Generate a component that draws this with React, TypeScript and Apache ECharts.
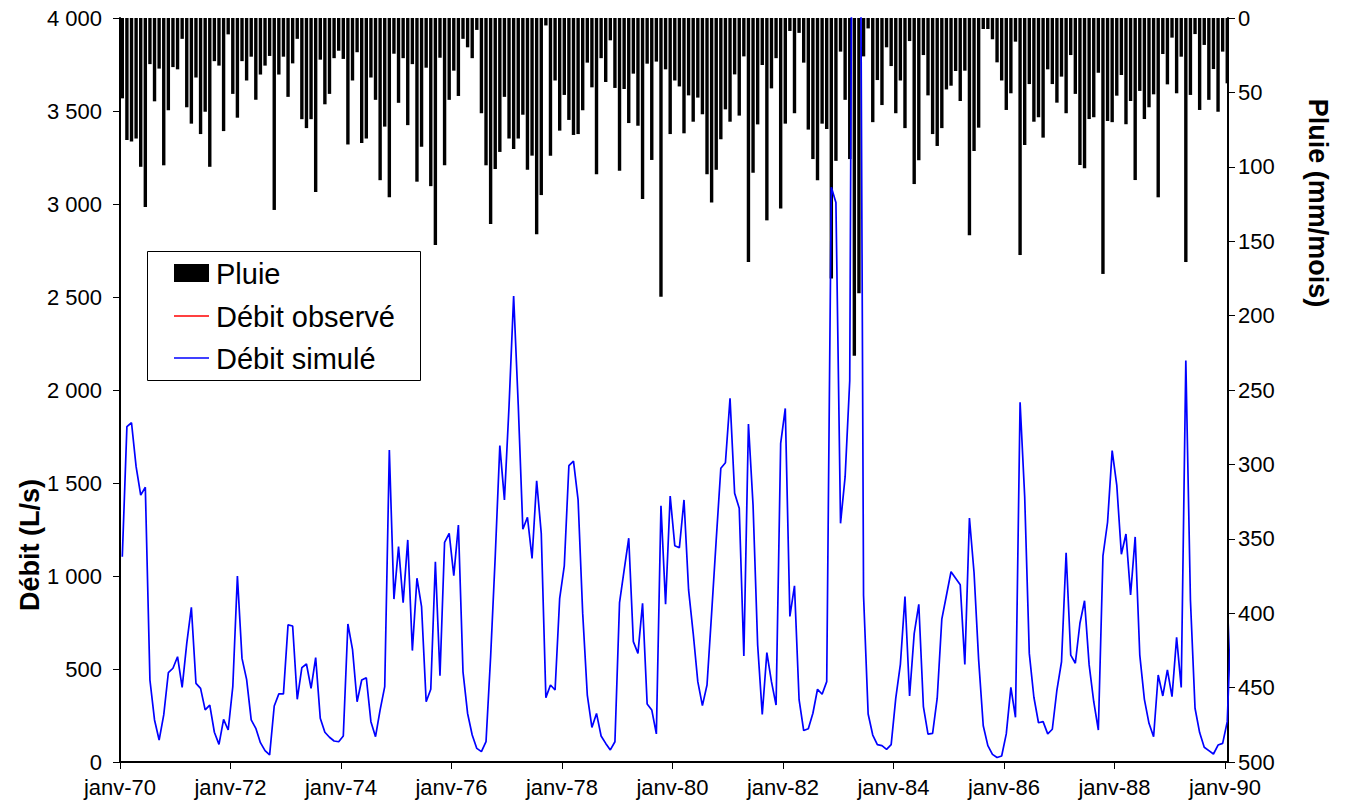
import React, { useEffect, useRef } from 'react';
import * as echarts from 'echarts';

// Monthly rain (mm/month), janv-70 .. janv-90
const rain: number[] = [
  54, 82, 83, 81, 100, 127, 31, 56, 34, 99,
  62, 33, 34.5, 14, 60, 71, 40, 78, 63, 100,
  29, 32, 76, 11, 51, 67, 29, 42, 26, 55,
  38, 32, 25.5, 129, 38, 26, 53, 30.5, 14, 68,
  74, 68, 117, 28, 58, 51, 27, 22, 27.5, 85,
  42, 23, 84, 81, 40, 55, 109, 73, 120.5, 24,
  57, 27, 72, 31, 110, 86.5, 33.4, 113, 152.5, 26.7,
  99, 55, 35.4, 52.4, 14, 19.7, 27, 8, 64, 99,
  138.4, 101.5, 90, 53, 81, 88, 81, 65, 102, 92.5,
  145.4, 119, 5, 92.5, 42, 75.7, 51.7, 68.5, 78.6, 78,
  62, 30, 46.6, 105, 27, 43, 15, 47, 102.6, 47.7,
  70.6, 37.4, 72.4, 121.6, 30.7, 95.4, 29.3, 187.3, 34.5, 78,
  42, 46, 77.5, 52, 69.7, 53.5, 64.7, 105, 124, 102,
  81.5, 61.4, 69.7, 37.9, 65.6, 25.8, 164, 104, 71.5, 31.6,
  136, 47.3, 27, 128, 71, 8.7, 64, 10, 30, 75,
  94.8, 109, 71, 74.6, 175, 96, 22.6, 55, 94.8, 227,
  185, 25.8, 7, 70, 41.7, 58.5, 19.7, 32.3, 64, 42,
  74, 15.5, 111.6, 95.6, 24.9, 52, 78, 86, 74, 48,
  45.5, 35.6, 55.8, 35.4, 146, 89.4, 73.7, 7.4, 7.4, 14.3,
  29.8, 42, 61.8, 50.6, 15.9, 159.3, 85.3, 44.4, 69.7, 66.7,
  80.4, 34.5, 44.4, 56.9, 39.4, 64, 24.9, 51, 98.8, 101,
  67.9, 66.7, 36.8, 172, 69.2, 70, 52.2, 38.3, 71.4, 55.8,
  108.9, 49, 67.9, 60, 51.3, 120.5, 24.2, 44.6, 13.2, 50.6,
  26, 164, 51.7, 10.8, 61.8, 18.1, 55, 34.3, 63, 22.6,
  43.9,
];

// Simulated flow (L/s), janv-70 .. févr-90
const flowSimulated: number[] = [
  1104, 1803, 1824, 1588, 1435, 1477, 441, 226, 118, 253,
  480, 504, 566, 401, 638, 832, 423, 396, 280, 306,
  160, 95, 229, 172, 405, 1000, 557, 444, 226, 181,
  104, 61, 38, 301, 366, 366, 737, 731, 337, 507,
  527, 396, 561, 235, 160, 133, 113, 109, 140, 742,
  606, 324, 441, 453, 217, 136, 280, 405, 1677, 876,
  1158, 857, 1194, 599, 988, 835, 324, 391, 1077, 464,
  1181, 1229, 1002, 1274, 485, 261, 145, 73, 56, 109,
  566, 1104, 1701, 1409, 1914, 2505, 1919, 1251, 1316, 1095,
  1512, 1229, 346, 414, 387, 880, 1054, 1593, 1618, 1409,
  799, 360, 186, 261, 140, 100, 65, 109, 857, 1032,
  1203, 647, 584, 853, 312, 280, 151, 1378, 848, 1430,
  1163, 1152, 1409, 925, 692, 432, 303, 414, 799, 1194,
  1579, 1609, 1955, 1445, 1364, 570, 1817, 1382, 629, 256,
  588, 432, 306, 1713, 1901, 783, 947, 335, 169, 179,
  262, 391, 364, 432, 3090, 3008, 1283, 1534, 2050, 7500,
  6500, 895, 258, 145, 93, 88, 68, 93, 343, 525,
  890, 355, 690, 848, 298, 150, 154, 343, 768, 895,
  1023, 988, 953, 525, 1312, 1019, 549, 195, 88, 41,
  24, 32, 151, 401, 240, 1934, 1427, 584, 348, 211,
  217, 151, 176, 387, 539, 1125, 575, 531, 746, 867,
  522, 324, 172, 1108, 1289, 1674, 1489, 1117, 1226, 898,
  1210, 575, 337, 208, 136, 468, 355, 495, 351, 670,
  401, 2158, 871, 289, 158, 79, 61, 43, 91, 100,
  217, 900,
];

const flowObserved: number[] = [];

const xTickLabels: string[] = [
  'janv-70', 'janv-72', 'janv-74', 'janv-76', 'janv-78', 'janv-80',
  'janv-82', 'janv-84', 'janv-86', 'janv-88', 'janv-90',
];

const legendNames: string[] = ['Pluie', 'Débit observé', 'Débit simulé'];
const legendColors: string[] = ['#000000', '#ff0000', '#0000ff'];

const FONT = '"Liberation Sans", Arial, sans-serif';

function fmtThousands(v: number): string {
  if (v >= 1000) {
    const th = Math.floor(v / 1000);
    const rest = String(v % 1000).padStart(3, '0');
    return th + ' ' + rest;
  }
  return String(v);
}

export default function App() {
  const ref = useRef<HTMLDivElement>(null);
  useEffect(() => {
    if (!ref.current) return;
    const chart = echarts.init(ref.current, undefined, { renderer: 'svg' });
    const xMax = 1108 / 4.604;

    // manual legend (box + icons + labels)
    const lgLeft = 147;
    const lgTop = 251;
    const rowY = [273, 316, 358];
    const legendGraphics: any[] = [
      {
        type: 'rect',
        z: 100,
        shape: { x: lgLeft + 0.5, y: lgTop + 0.5, width: 273, height: 129 },
        style: { fill: '#ffffff', stroke: '#000000', lineWidth: 1 },
      },
    ];
    legendNames.forEach((name, k) => {
      if (k === 0) {
        legendGraphics.push({
          type: 'rect',
          z: 101,
          shape: { x: 174, y: rowY[k] - 9, width: 35, height: 18 },
          style: { fill: legendColors[k] },
        });
      } else {
        legendGraphics.push({
          type: 'line',
          z: 101,
          shape: { x1: 174, y1: rowY[k], x2: 209, y2: rowY[k] },
          style: { stroke: legendColors[k], lineWidth: 1.5 },
        });
      }
      legendGraphics.push({
        type: 'text',
        z: 101,
        x: 216,
        y: rowY[k] + 1,
        style: {
          text: name,
          font: '29px "Liberation Sans", Arial, sans-serif',
          fill: '#000',
          align: 'left',
          verticalAlign: 'middle',
        },
      });
    });

    const option: any = {
      animation: false,
      backgroundColor: '#ffffff',
      textStyle: { fontFamily: FONT },
      grid: { left: 120, top: 18, width: 1108, height: 744, containLabel: false },
      xAxis: {
        type: 'value',
        min: 0,
        max: xMax,
        interval: 24,
        axisLine: { show: true, lineStyle: { color: '#000', width: 2 } },
        axisTick: { show: true, length: 7, lineStyle: { color: '#000', width: 1 } },
        splitLine: { show: false },
        axisLabel: {
          fontSize: 22,
          fontFamily: FONT,
          color: '#000',
          margin: 14,
          showMaxLabel: false,
          formatter: (v: number) => {
            const k = Math.round(v / 24);
            if (Math.abs(v - k * 24) < 1e-6 && k < xTickLabels.length) return xTickLabels[k];
            return '';
          },
        },
      },
      yAxis: [
        {
          type: 'value',
          min: 0,
          max: 4000,
          interval: 500,
          position: 'left',
          axisLine: { show: true, lineStyle: { color: '#000', width: 2 } },
          axisTick: { show: true, length: 7, lineStyle: { color: '#000', width: 1 } },
          splitLine: { show: false },
          axisLabel: {
            fontSize: 22,
            fontFamily: FONT,
            color: '#000',
            margin: 18,
            formatter: (v: number) => fmtThousands(v),
          },
        },
        {
          type: 'value',
          min: 0,
          max: 500,
          interval: 50,
          inverse: true,
          position: 'right',
          axisLine: { show: true, lineStyle: { color: '#000', width: 2 } },
          axisTick: { show: true, length: 7, lineStyle: { color: '#000', width: 1 } },
          splitLine: { show: false },
          axisLabel: { fontSize: 22, fontFamily: FONT, color: '#000', margin: 10 },
        },
      ],
      series: [
        {
          name: legendNames[0],
          type: 'bar',
          yAxisIndex: 1,
          barWidth: 3.4,
          itemStyle: { color: legendColors[0] },
          data: rain.map((v, i) => [i + 0.5, v]),
          clip: true,
        },
        {
          name: legendNames[1],
          type: 'line',
          yAxisIndex: 0,
          symbol: 'none',
          lineStyle: { color: legendColors[1], width: 1.6 },
          itemStyle: { color: legendColors[1] },
          data: flowObserved.map((v, i) => [i + 0.5, v]),
        },
        {
          name: legendNames[2],
          type: 'line',
          yAxisIndex: 0,
          symbol: 'none',
          clip: true,
          lineStyle: { color: legendColors[2], width: 1.7 },
          itemStyle: { color: legendColors[2] },
          data: flowSimulated.map((v, i) => [i + 0.5, v]),
        },
      ],
      graphic: [
        ...legendGraphics,
        {
          type: 'text',
          z: 100,
          x: 30,
          y: 545,
          rotation: Math.PI / 2,
          style: {
            text: 'Débit (L/s)',
            font: 'bold 27px "Liberation Sans", Arial, sans-serif',
            fill: '#000',
            align: 'center',
            verticalAlign: 'middle',
          },
        },
        {
          type: 'text',
          z: 100,
          x: 1318,
          y: 203,
          rotation: -Math.PI / 2,
          style: {
            text: 'Pluie (mm/mois)',
            font: 'bold 27px "Liberation Sans", Arial, sans-serif',
            fill: '#000',
            align: 'center',
            verticalAlign: 'middle',
          },
        },
      ],
    };
    chart.setOption(option);
    return () => chart.dispose();
  }, []);
  return (
    <div
      ref={ref}
      style={{ position: 'fixed', left: 0, top: 0, width: 1345, height: 808, background: '#fff' }}
    />
  );
}
